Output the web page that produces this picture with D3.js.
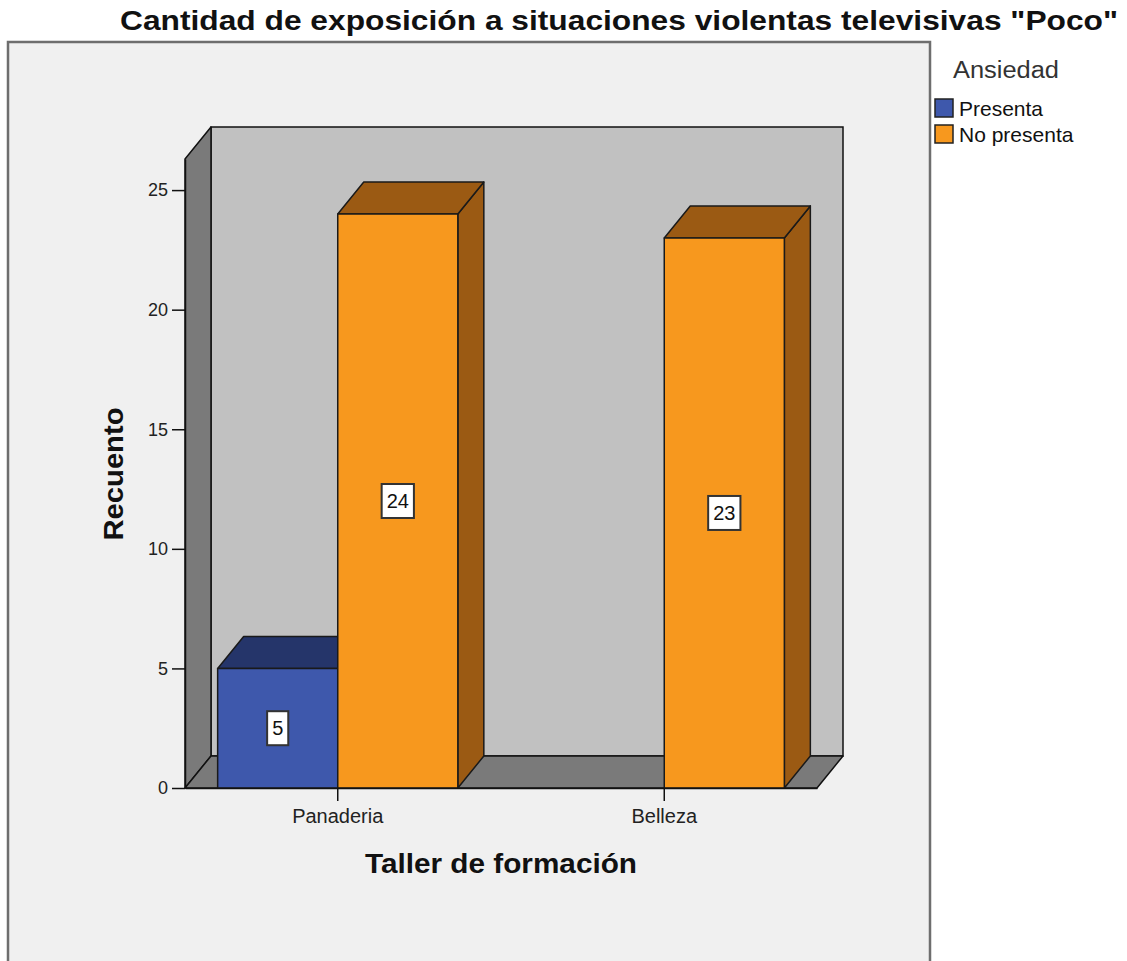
<!DOCTYPE html>
<html>
<head>
<meta charset="utf-8">
<script src="https://cdn.jsdelivr.net/npm/d3@7"></script>
<style>
  html, body { margin: 0; padding: 0; background: #ffffff; }
  svg { display: block; font-family: "Liberation Sans", Arial, sans-serif; }
</style>
</head>
<body>
<svg id="chart" width="1127" height="961"></svg>
<script>
// ---- data ----
const categories = ["Panaderia", "Belleza"];
const seriesNames = ["Presenta", "No presenta"];
const presentaValues = [5, 0];
const noPresentaValues = [24, 23];
const yTickValues = [0, 5, 10, 15, 20, 25];
const titleText = 'Cantidad de exposición a situaciones violentas televisivas "Poco"';
const xTitle = "Taller de formación";
const yTitle = "Recuento";
const legendTitle = "Ansiedad";

// ---- style ----
const frontColors = { "Presenta": "#3e58ac", "No presenta": "#f7981e" };
const darkColors = { "Presenta": "#25356a", "No presenta": "#9b5a13" };
const DX = 26, DY = -32;

const svg = d3.select("#chart");

// frame
svg.append("rect").attr("x", 8).attr("y", 42).attr("width", 922).attr("height", 940)
  .attr("fill", "#f0f0f0").attr("stroke", "#6e6e6e").attr("stroke-width", 2.5);

// scales
const y = d3.scaleLinear().domain([0, 26.3]).range([788, 159]);
const x = d3.scaleBand().domain(categories).range([185, 817])
  .paddingInner(0.2644).paddingOuter(0.1);
const xs = d3.scaleBand().domain(seriesNames).range([0, x.bandwidth()]);

const x0 = x.range()[0], x1 = x.range()[1];
const yb = y(0), yt = y(y.domain()[1]);

// walls
const g = svg.append("g");
const line = pts => "M" + pts.map(p => p.join(",")).join("L") + "Z";
g.append("rect").attr("x", x0 + DX).attr("y", yt + DY)
  .attr("width", (x1 - x0)).attr("height", yb - yt)
  .attr("fill", "#c1c1c1").attr("stroke", "#111").attr("stroke-width", 1.5);
g.append("path").attr("d", line([[x0, yb], [x0, yt], [x0 + DX, yt + DY], [x0 + DX, yb + DY]]))
  .attr("fill", "#7a7a7a").attr("stroke", "#111").attr("stroke-width", 1.5).attr("stroke-linejoin", "round");
g.append("path").attr("d", line([[x0, yb], [x1, yb], [x1 + DX, yb + DY], [x0 + DX, yb + DY]]))
  .attr("fill", "#7a7a7a").attr("stroke", "#111").attr("stroke-width", 1.5).attr("stroke-linejoin", "round");

// bars
const bars = [];
categories.forEach((c, i) => {
  bars.push({ cat: c, s: "Presenta", v: presentaValues[i] });
  bars.push({ cat: c, s: "No presenta", v: noPresentaValues[i] });
});
const barG = svg.append("g");
bars.filter(d => d.v > 0).forEach(d => {
  const bx = x(d.cat) + xs(d.s), bw = xs.bandwidth();
  const top = y(d.v);
  const gg = barG.append("g").attr("stroke", "#1a1a1a").attr("stroke-width", 1.5).attr("stroke-linejoin", "round");
  gg.append("path").attr("d", line([[bx + bw, top], [bx + bw + DX, top + DY], [bx + bw + DX, yb + DY], [bx + bw, yb]]))
    .attr("fill", darkColors[d.s]);
  gg.append("path").attr("d", line([[bx, top], [bx + bw, top], [bx + bw + DX, top + DY], [bx + DX, top + DY]]))
    .attr("fill", darkColors[d.s]);
  gg.append("rect").attr("x", bx).attr("y", top).attr("width", bw).attr("height", yb - top)
    .attr("fill", frontColors[d.s]);
});
// value labels
bars.filter(d => d.v > 0).forEach(d => {
  const cx = x(d.cat) + xs(d.s) + xs.bandwidth() / 2;
  const cy = (y(d.v) + yb) / 2;
  const lg = svg.append("g");
  const t = lg.append("text").attr("x", cx).attr("y", cy + 7).attr("text-anchor", "middle")
    .attr("font-size", 20).attr("fill", "#111").text(d.v);
  const w = t.node().getComputedTextLength() + 10;
  lg.insert("rect", "text").attr("x", cx - w / 2).attr("y", cy - 17).attr("width", w).attr("height", 34)
    .attr("fill", "#fff").attr("stroke", "#333").attr("stroke-width", 2);
});

// axes
const yAxis = svg.append("g").attr("transform", `translate(${x0},0)`)
  .call(d3.axisLeft(y).tickValues(yTickValues).tickSize(13).tickSizeOuter(0).tickPadding(4));
yAxis.selectAll("text").attr("font-size", 18).attr("fill", "#222").attr("font-family", "Liberation Sans, Arial, sans-serif");
yAxis.selectAll("line").attr("stroke", "#111").attr("stroke-width", 1.5);
yAxis.select(".domain").attr("stroke", "#111").attr("stroke-width", 1.5);

const xAxis = svg.append("g").attr("transform", `translate(0,${yb})`)
  .call(d3.axisBottom(x).tickSize(13).tickSizeOuter(0).tickPadding(8));
xAxis.selectAll("text").attr("font-size", 20).attr("fill", "#222").attr("font-family", "Liberation Sans, Arial, sans-serif");
xAxis.selectAll("line").attr("stroke", "#111").attr("stroke-width", 1.5);
xAxis.select(".domain").attr("stroke", "#111").attr("stroke-width", 1.5);

// titles
svg.append("text").attr("x", 619).attr("y", 30).attr("text-anchor", "middle")
  .attr("font-size", 28).attr("font-weight", "bold").attr("fill", "#111")
  .attr("textLength", 998).attr("lengthAdjust", "spacingAndGlyphs").text(titleText);
svg.append("text").attr("x", 501).attr("y", 873).attr("text-anchor", "middle")
  .attr("font-size", 28).attr("font-weight", "bold").attr("fill", "#111")
  .attr("textLength", 272).attr("lengthAdjust", "spacingAndGlyphs").text(xTitle);
svg.append("text").attr("transform", "translate(123,474) rotate(-90)").attr("text-anchor", "middle")
  .attr("font-size", 28).attr("font-weight", "bold").attr("fill", "#111")
  .attr("textLength", 133).attr("lengthAdjust", "spacingAndGlyphs").text(yTitle);

// legend
svg.append("text").attr("x", 953).attr("y", 78).attr("font-size", 23).attr("fill", "#333")
  .attr("textLength", 106).attr("lengthAdjust", "spacingAndGlyphs").text(legendTitle);
const leg = svg.append("g");
seriesNames.forEach((s, i) => {
  leg.append("rect").attr("x", 935).attr("y", 99 + i * 26).attr("width", 18).attr("height", 18)
    .attr("fill", frontColors[s]).attr("stroke", "#222").attr("stroke-width", 1.5);
  leg.append("text").attr("x", 959).attr("y", 116 + i * 26).attr("font-size", 21).attr("fill", "#111").text(s);
});
</script>
</body>
</html>
